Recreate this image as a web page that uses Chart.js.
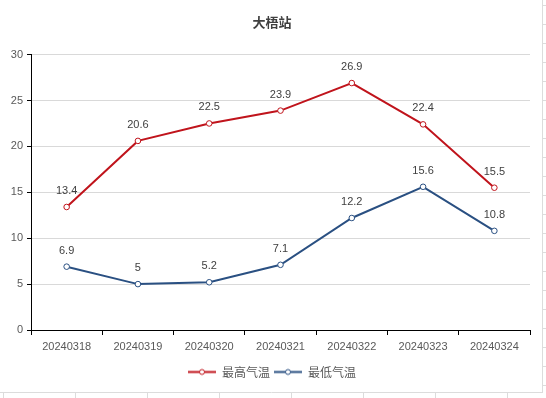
<!DOCTYPE html>
<html>
<head>
<meta charset="utf-8">
<script src="https://cdn.jsdelivr.net/npm/chart.js@4/dist/chart.umd.min.js"></script>
<style>
  html, body { margin: 0; padding: 0; background: #fff; }
  #wrap { width: 546px; height: 398px; position: relative; }
</style>
</head>
<body>
<div id="wrap"><canvas id="chart"></canvas></div>
<script>
// ---- data ----
const dates = ['20240318','20240319','20240320','20240321','20240322','20240323','20240324'];
const maxTemp = [13.4, 20.6, 22.5, 23.9, 26.9, 22.4, 15.5];
const minTemp = [6.9, 5, 5.2, 7.1, 12.2, 15.6, 10.8];
const yTicks = [0, 5, 10, 15, 20, 25, 30];

const RED = '#c0141c';
const BLUE = '#2a5082';
const TEXT = '#595959';
const NUM_FONT = '"Liberation Sans", Arial, sans-serif';
const CJK_FONT = '"Noto Sans CJK SC", "Noto Sans", sans-serif';

// legend marker: short line with an open circle
function legendIcon(color) {
  const c = document.createElement('canvas');
  c.width = 28; c.height = 9;
  const g = c.getContext('2d');
  g.strokeStyle = color; g.lineWidth = 2;
  g.beginPath(); g.moveTo(0, 4.5); g.lineTo(28, 4.5); g.stroke();
  g.fillStyle = '#fff'; g.lineWidth = 1;
  g.beginPath(); g.arc(14, 4.5, 2.5, 0, Math.PI * 2); g.fill(); g.stroke();
  return c;
}

// value labels above each point
const valueLabels = {
  id: 'valueLabels',
  afterDatasetsDraw(chart) {
    const ctx = chart.ctx;
    ctx.save();
    ctx.font = '11px ' + NUM_FONT;
    ctx.fillStyle = '#404040';
    ctx.textAlign = 'center';
    ctx.textBaseline = 'middle';
    chart.data.datasets.forEach((ds, i) => {
      chart.getDatasetMeta(i).data.forEach((pt, j) => {
        ctx.fillText(String(ds.data[j]), pt.x, pt.y - 16);
      });
    });
    ctx.restore();
  }
};

// centre title + legend on the whole canvas rather than the padded box
const centreBlocks = {
  id: 'centreBlocks',
  afterLayout(chart) {
    const shift = 7;
    [chart.titleBlock, chart.legend].forEach(b => {
      if (b) { b.left += shift; b.right += shift; }
    });
  }
};

// faint worksheet cell borders peeking at the edges
const sheetEdges = {
  id: 'sheetEdges',
  afterDraw(chart) {
    const ctx = chart.ctx;
    ctx.save();
    ctx.strokeStyle = '#dcdcdc';
    ctx.lineWidth = 1;
    ctx.beginPath();
    ctx.moveTo(542.5, 0); ctx.lineTo(542.5, 392);
    for (let y = 5.5; y < 392; y += 19) { ctx.moveTo(542, y); ctx.lineTo(546, y); }
    ctx.moveTo(0, 392.5); ctx.lineTo(543, 392.5);
    for (let x = 3.5; x < 543; x += 72) { ctx.moveTo(x, 392); ctx.lineTo(x, 398); }
    ctx.stroke();
    ctx.restore();
  }
};

const pointStyleCommon = {
  borderWidth: 2, pointRadius: 2.8, pointHoverRadius: 2.8,
  pointBackgroundColor: '#fff', pointBorderWidth: 1, tension: 0, fill: false
};

new Chart(document.getElementById('chart'), {
  type: 'line',
  data: {
    labels: dates,
    datasets: [
      { label: '最高气温', data: maxTemp, borderColor: RED, pointBorderColor: RED, ...pointStyleCommon },
      { label: '最低气温', data: minTemp, borderColor: BLUE, pointBorderColor: BLUE, ...pointStyleCommon }
    ]
  },
  options: {
    responsive: true, maintainAspectRatio: false, animation: false,
    layout: { padding: { left: 0, right: 16, top: 0, bottom: 10 } },
    plugins: {
      title: {
        display: true, text: '大梧站', color: '#404040',
        font: { family: CJK_FONT, size: 13, weight: 'bold' },
        padding: { top: 14, bottom: 25 }
      },
      legend: {
        position: 'bottom',
        labels: {
          color: TEXT, font: { family: CJK_FONT, size: 12 },
          usePointStyle: true, pointStyleWidth: 28, padding: 4,
          generateLabels: chart => chart.data.datasets.map((ds, i) => ({
            text: ds.label, datasetIndex: i, pointStyle: legendIcon(ds.borderColor),
            fontColor: TEXT, lineWidth: 0, strokeStyle: 'transparent', fillStyle: 'transparent'
          }))
        }
      },
      tooltip: { enabled: false }
    },
    scales: {
      x: {
        offset: true,
        afterFit: s => { s.height = 32; },
        border: { color: '#000', width: 1 },
        grid: { offset: true, drawOnChartArea: false, drawTicks: true, tickLength: 5, color: '#000' },
        ticks: { color: TEXT, padding: 5, font: { family: NUM_FONT, size: 11 }, maxRotation: 0 }
      },
      y: {
        min: yTicks[0], max: yTicks[yTicks.length - 1],
        afterFit: s => { s.width = 31; },
        border: { color: '#000', width: 1 },
        grid: { color: '#d9d9d9', tickColor: '#000', tickLength: 4, drawTicks: true },
        ticks: { stepSize: yTicks[1] - yTicks[0], color: TEXT, padding: 4, font: { family: NUM_FONT, size: 11 } }
      }
    }
  },
  plugins: [centreBlocks, valueLabels, sheetEdges]
});
</script>
</body>
</html>
